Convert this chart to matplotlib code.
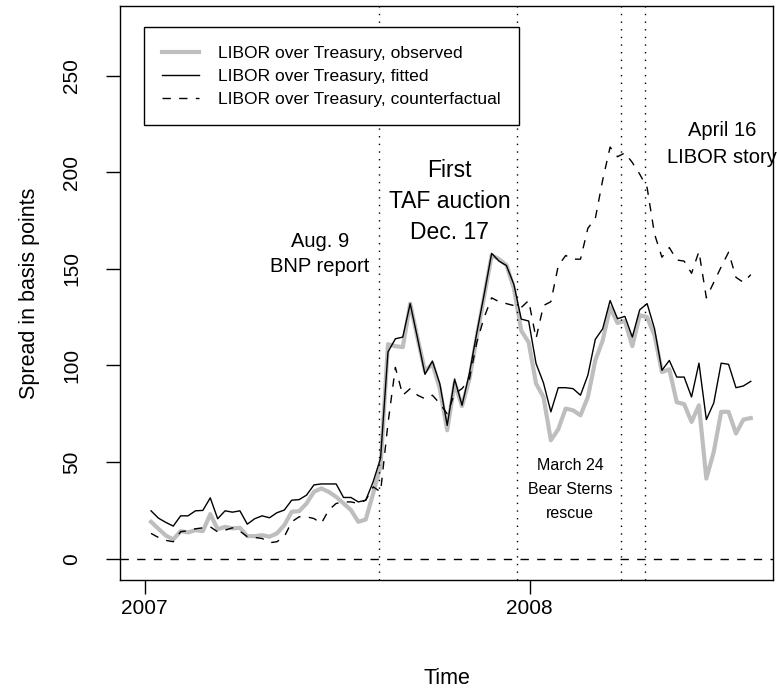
import matplotlib
matplotlib.use("Agg")
import matplotlib.pyplot as plt
from matplotlib import font_manager
import numpy as np

# weekly series, first observation just after the start of 2007
start = 2007.0166
observed = [19.1, 15.5, 12, 10, 14.3, 13.6, 14.8, 14.3, 23.1, 15.3,
            16.5, 15.7, 16, 11.7, 11.7, 12.2, 11.4, 13.1, 17.4, 24.3,
            24.6, 28.6, 34.6, 36.4, 34.6, 32, 28.6, 25.2, 19.1, 20.3,
            33.8, 48, 111, 110, 109.5, 132, 114, 97, 101, 88,
            66.5, 91, 79, 93, 115, 136, 157, 155, 152, 140,
            118, 112, 90.6, 83.7, 61.3, 67, 77.7, 76.8, 74.2, 83.7,
            102.6, 113, 130, 122, 123, 110, 126, 125, 115.5, 96.6,
            98, 81, 80, 70.8, 79.4, 41.5, 55.3, 76, 76, 64.8,
            72, 72.8]
fitted = [24.8, 21, 18.8, 16.9, 22.2, 22.2, 24.8, 25, 31.5, 20.7,
          24.8, 24.1, 24.8, 17.9, 20.7, 22.2, 21.2, 23.8, 25.2, 30.3,
          30.6, 32.9, 38.2, 38.7, 38.7, 38.7, 31.7, 31.7, 29.4, 30.3,
          39.8, 52, 107, 113.8, 114.7, 132, 114, 95.4, 102.3, 90.6,
          69, 93, 79.4, 96, 117, 137, 158, 154, 151.7, 142,
          124, 123, 101, 91, 76, 88.5, 88.5, 88, 84.6, 95,
          113.5, 119, 133.6, 124.2, 125.4, 114.7, 128.8, 132, 119, 97.5,
          102.6, 94, 94, 83.7, 101.2, 72, 80.6, 101.2, 100.6, 88.5,
          89.4, 91.8]
counterfactual = [13.1, 11, 9.5, 8.8, 14, 14.5, 15.5, 16, 16.5, 13.9,
                  14.8, 16, 14.3, 11.4, 11, 10.5, 8.3, 8.8, 11.4, 19.1,
                  21.7, 21.7, 20.8, 18.3, 25.2, 28.6, 29.4, 29.4, 28.6, 30.3,
                  37.2, 34.6, 70, 99, 84.6, 88, 84.6, 82.8, 84.6, 80.3,
                  75, 85.4, 88, 93, 112, 125, 135, 133, 132, 131,
                  130, 133.6, 114, 131, 133, 151.6, 156.9, 155, 155, 171,
                  176, 196, 213, 208, 210, 205, 199, 192, 168, 156,
                  161, 154.6, 154, 147.7, 159, 135, 143, 151, 158.6, 145.6,
                  143, 147]
events = [2007.609, 2007.967, 2008.237, 2008.300]
labels = ['LIBOR over Treasury, observed',
          'LIBOR over Treasury, fitted',
          'LIBOR over Treasury, counterfactual']

# pick a narrow Helvetica-like face if one is installed
family = 'Liberation Sans'
try:
    font_manager.findfont('Liberation Sans Narrow', fallback_to_default=False)
    family = 'Liberation Sans Narrow'
except Exception:
    pass
plt.rcParams['font.family'] = [family, 'DejaVu Sans']

t = start + np.arange(len(fitted)) / 52.0

fig = plt.figure(figsize=(7.77, 6.92), dpi=100)
ax = fig.add_axes([120 / 777, 1 - 580 / 692, 653 / 777, 574 / 692])

ax.plot(t, observed, color='#bebebe', lw=3.0, solid_joinstyle='round', label=labels[0])
ax.plot(t, fitted, color='black', lw=1.0, label=labels[1])
ax.plot(t, counterfactual, color='black', lw=1.0, linestyle=(0, (6, 6)), label=labels[2])

ax.axhline(0, color='black', lw=1.0, linestyle=(0, (6, 6)))
for e in events:
    ax.axvline(e, color='black', lw=1.0, linestyle=(0, (1, 4.5)))

ax.set_xlim(2006.936, 2008.632)
ax.set_ylim(-11, 286)
ax.set_xticks([2007, 2008])
ax.set_xticklabels(['2007', '2008'])
ax.set_yticks([0, 50, 100, 150, 200, 250])
ax.set_yticklabels(['0', '50', '100', '150', '200', '250'], rotation=90, va='center')
ax.tick_params(direction='out', length=10, width=1, labelsize=15)
ax.tick_params(axis='x', pad=4)
ax.tick_params(axis='y', pad=18)
for s in ax.spines.values():
    s.set_linewidth(1.0)

ax.set_xlabel('Time', fontsize=15.5, labelpad=36)
ax.set_ylabel('Spread in basis points', fontsize=15.5, labelpad=16)

ax.text(0.306, 0.568, 'Aug. 9\nBNP report', transform=ax.transAxes,
        ha='center', va='center', fontsize=14.5, linespacing=1.45)
ax.text(0.505, 0.660, 'First\nTAF auction\nDec. 17', transform=ax.transAxes,
        ha='center', va='center', fontsize=16.5, linespacing=1.45)
ax.text(0.922, 0.760, 'April 16\nLIBOR story', transform=ax.transAxes,
        ha='center', va='center', fontsize=14.5, linespacing=1.5)
ax.text(0.689, 0.157, 'March 24\nBear Sterns\nrescue', transform=ax.transAxes,
        ha='center', va='center', fontsize=11.5, linespacing=1.75)

leg = ax.legend(loc='upper left', bbox_to_anchor=(0.0368, 0.9634), borderaxespad=0,
                fancybox=False, framealpha=1, edgecolor='black', fontsize=12.6,
                handlelength=2.1, handletextpad=1.1, borderpad=1.05, labelspacing=0.45)
leg.get_frame().set_linewidth(1.0)

fig.savefig('out.png', dpi=100)
